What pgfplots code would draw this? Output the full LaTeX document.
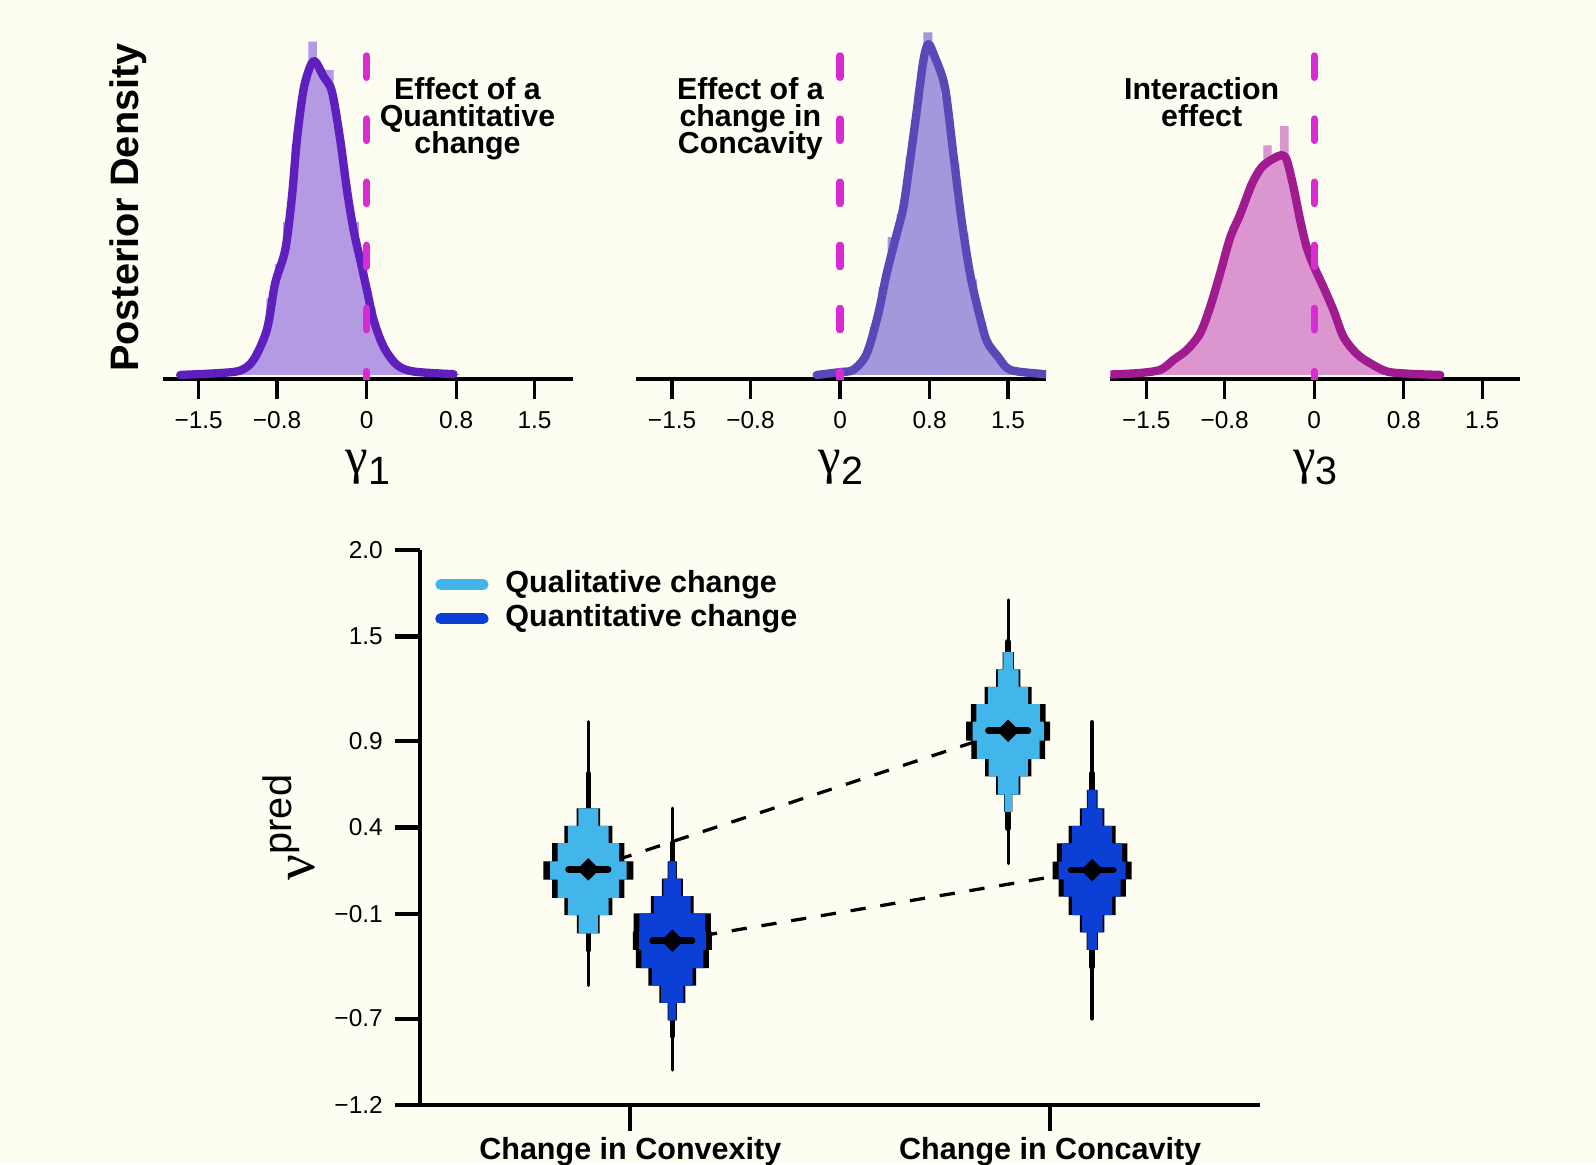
\documentclass[border=0pt]{standalone}
\usepackage{fontspec}
\setmainfont{Liberation Sans}
\newfontfamily\greekfont{Liberation Serif}
\usepackage{pgfplots}
\usepackage{pgfplotstable}
\pgfplotsset{compat=1.18}

\definecolor{bg}{RGB}{253,253,241}
\definecolor{p1line}{RGB}{94,31,190}
\definecolor{p1fill}{RGB}{179,154,226}
\definecolor{p2line}{RGB}{88,72,184}
\definecolor{p2fill}{RGB}{162,152,220}
\definecolor{p3line}{RGB}{160,26,144}
\definecolor{p3fill}{RGB}{219,150,208}
\definecolor{mag}{RGB}{216,44,210}
\definecolor{qual}{RGB}{66,181,234}
\definecolor{quant}{RGB}{12,63,213}

\newcommand{\fs}[1]{\fontsize{#1}{#1}\selectfont}

% violin bins as step corners (y, half width); end rows close the outline at the centre
\pgfplotstableread{
y w
-0.21 -0.003
-0.21 0.027
-0.105 0.027
-0.105 0.057
-0.005 0.057
-0.005 0.086
0.100 0.086
0.100 0.107
0.205 0.107
0.205 0.086
0.310 0.086
0.310 0.057
0.410 0.057
0.410 0.028
0.510 0.028
0.510 -0.003
}\qualA
\pgfplotstableread{
y w
-0.71 -0.003
-0.71 0.011
-0.61 0.011
-0.61 0.031
-0.51 0.031
-0.51 0.057
-0.41 0.057
-0.41 0.087
-0.305 0.087
-0.305 0.094
-0.20 0.094
-0.20 0.092
-0.095 0.092
-0.095 0.051
0.005 0.051
0.005 0.025
0.105 0.025
0.105 0.011
0.205 0.011
0.205 -0.003
}\quantA
\pgfplotstableread{
y w
0.49 -0.003
0.49 0.010
0.59 0.010
0.59 0.029
0.695 0.029
0.695 0.055
0.795 0.055
0.795 0.088
0.90 0.088
0.90 0.100
1.01 0.100
1.01 0.089
1.11 0.089
1.11 0.056
1.21 0.056
1.21 0.029
1.31 0.029
1.31 0.0135
1.41 0.0135
1.41 -0.003
}\qualB
\pgfplotstableread{
y w
-0.305 -0.003
-0.305 0.0135
-0.204 0.0135
-0.204 0.029
-0.104 0.029
-0.104 0.056
0.002 0.056
0.002 0.080
0.101 0.080
0.101 0.094
0.203 0.094
0.203 0.084
0.309 0.084
0.309 0.056
0.41 0.056
0.41 0.029
0.51 0.029
0.51 0.0127
0.616 0.0127
0.616 -0.003
}\quantB

% #1 table, #2 centre, #3 colour
\newcommand{\violin}[3]{%
  \addplot[draw=none, fill=black, forget plot] table[x expr=#2+\thisrow{w}, y=y] {#1};
  \addplot[draw=none, fill=black, forget plot] table[x expr=#2-\thisrow{w}, y=y] {#1};
  \addplot[draw=none, fill=#3, forget plot] table[x expr=#2+0.85*\thisrow{w}, y=y] {#1};
  \addplot[draw=none, fill=#3, forget plot] table[x expr=#2-0.85*\thisrow{w}, y=y] {#1};
}

\pgfplotsset{
  toppanel/.style={
    anchor=south west, scale only axis,
    width=201.3pt, height=176.06pt,
    xmin=-1.82, xmax=1.84, ymin=-0.023, ymax=1.85,
    axis x line*=bottom, axis y line=none,
    axis line style={line width=2pt},
    xtick={-1.5,-0.8,0,0.8,1.5},
    xticklabels={−1.5,−0.8,0,0.8,1.5},
    tick align=outside, major tick length=9.5pt,
    xtick style={line width=1.6pt, black},
    xticklabel style={font=\fs{12}, anchor=base, inner sep=0pt, yshift=-14.8pt},
    xlabel style={at={(axis description cs:0.5,0)}, anchor=base, inner sep=0pt, yshift=-46.2pt},
  },
  dens/.style={line width=4.1pt, smooth, line cap=round, line join=round},
  zeroline/.style={mag, line width=3.6pt, line cap=round, dash pattern=on 10.5pt off 20.5pt},
}

\begin{document}
\begin{tikzpicture}
\fill[bg] (0,0) rectangle (784pt,572pt);

% gamma 1
\begin{axis}[toppanel, at={(80pt,385.65pt)},
  xlabel={{\fs{25}\greekfont γ}\raisebox{-5.7pt}{\fs{19.4}1}}]
\addplot[ybar interval, fill=p1fill, draw=none] coordinates {
(-1.645,0.002) (-1.570,0.004) (-1.495,0.006) (-1.420,0.008) (-1.345,0.011)
(-1.270,0.016) (-1.195,0.021) (-1.120,0.045) (-1.045,0.082) (-0.970,0.181)
(-0.895,0.40) (-0.820,0.58) (-0.745,0.80) (-0.670,1.20) (-0.595,1.52)
(-0.520,1.742) (-0.445,1.60) (-0.370,1.594) (-0.295,1.30) (-0.220,1.00)
(-0.145,0.80) (-0.070,0.55) (0.005,0.35) (0.080,0.201) (0.155,0.115)
(0.230,0.055) (0.305,0.036) (0.380,0.018) (0.455,0.015) (0.530,0.012)
(0.605,0.009) (0.680,0.006) (0.755,0.004) (0.830,0)};
\addplot[p1line, dens] coordinates {
(-1.665,0.000) (-1.337,0.009) (-1.129,0.023) (-1.010,0.079) (-0.891,0.236)
(-0.817,0.479) (-0.727,0.654) (-0.667,0.932) (-0.623,1.229) (-0.564,1.490)
(-0.504,1.612) (-0.459,1.638) (-0.385,1.560) (-0.310,1.481) (-0.236,1.229)
(-0.176,0.967) (-0.117,0.758) (-0.057,0.601) (0.002,0.445) (0.062,0.288)
(0.151,0.148) (0.270,0.053) (0.419,0.018) (0.776,0.004)};
\addplot[zeroline] coordinates {(0,1.667) (0,-0.023)};
\end{axis}

% gamma 2
\begin{axis}[toppanel, at={(312.55pt,385.65pt)},
  xlabel={{\fs{25}\greekfont γ}\raisebox{-5.7pt}{\fs{19.4}2}}]
\addplot[ybar interval, fill=p2fill, draw=none] coordinates {
(-0.215,0.002) (-0.135,0.005) (-0.055,0.014) (0.025,0.022) (0.105,0.045)
(0.185,0.10) (0.265,0.25) (0.345,0.46) (0.425,0.72) (0.505,0.84)
(0.585,1.14) (0.665,1.48) (0.745,1.79) (0.825,1.64) (0.905,1.46)
(0.985,1.10) (1.065,0.74) (1.145,0.50) (1.225,0.28) (1.305,0.15)
(1.385,0.086) (1.465,0.035) (1.545,0.02) (1.625,0.012) (1.705,0.008)
(1.785,0.005) (1.865,0)};
\addplot[p2line, dens] coordinates {
(-0.208,0.000) (0.000,0.015) (0.119,0.027) (0.238,0.111) (0.342,0.321)
(0.416,0.529) (0.506,0.736) (0.565,0.875) (0.625,1.119) (0.685,1.380)
(0.744,1.642) (0.789,1.729) (0.848,1.659) (0.937,1.502) (1.012,1.154)
(1.086,0.807) (1.161,0.529) (1.235,0.336) (1.310,0.178) (1.414,0.093)
(1.518,0.027) (1.786,0.006) (1.860,0.003)};
\addplot[zeroline] coordinates {(0,1.667) (0,-0.023)};
\end{axis}

% gamma 3
\begin{axis}[toppanel, at={(545.5pt,385.65pt)},
  xlabel={{\fs{25}\greekfont γ}\raisebox{-5.7pt}{\fs{19.4}3}}]
\addplot[ybar interval, fill=p3fill, draw=none] coordinates {
(-1.955,0.001) (-1.880,0.003) (-1.805,0.004) (-1.730,0.006) (-1.655,0.008)
(-1.580,0.011) (-1.505,0.017) (-1.430,0.025) (-1.355,0.05) (-1.280,0.085)
(-1.205,0.12) (-1.130,0.16) (-1.055,0.22) (-0.980,0.34) (-0.905,0.48)
(-0.830,0.64) (-0.755,0.78) (-0.680,0.87) (-0.605,1.00) (-0.530,1.08)
(-0.455,1.20) (-0.380,1.14) (-0.305,1.30) (-0.230,1.00) (-0.155,0.79)
(-0.080,0.63) (-0.005,0.53) (0.070,0.43) (0.145,0.32) (0.220,0.21)
(0.295,0.14) (0.370,0.10) (0.445,0.065) (0.520,0.04) (0.595,0.022)
(0.670,0.014) (0.745,0.009) (0.820,0.006) (0.895,0.004) (0.970,0.003)
(1.045,0.002) (1.120,0)};
\addplot[p3line, dens] coordinates {
(-1.926,0.000) (-1.585,0.009) (-1.375,0.027) (-1.256,0.079) (-1.137,0.131)
(-1.019,0.218) (-0.929,0.357) (-0.840,0.532) (-0.751,0.718) (-0.661,0.840)
(-0.557,0.998) (-0.467,1.087) (-0.364,1.131) (-0.289,1.148) (-0.245,1.122)
(-0.185,0.980) (-0.125,0.806) (-0.066,0.664) (0.008,0.553) (0.083,0.458)
(0.173,0.336) (0.262,0.198) (0.381,0.110) (0.500,0.061) (0.649,0.018)
(0.850,0.006) (1.125,0.000)};
\addplot[zeroline] coordinates {(0,1.667) (0,-0.023)};
\end{axis}

% panel notes
\begin{scope}[every node/.style={anchor=base, inner sep=0pt, font=\fs{14.9}\bfseries}]
\node at (229.65pt,523.1pt) {Effect of a};
\node at (229.65pt,509.85pt) {Quantitative};
\node at (229.65pt,496.6pt) {change};
\node at (368.6pt,523.1pt) {Effect of a};
\node at (368.6pt,509.85pt) {change in};
\node at (368.6pt,496.6pt) {Concavity};
\node at (590.3pt,523.1pt) {Interaction};
\node at (590.3pt,509.85pt) {effect};
\end{scope}
\node[rotate=90, anchor=base, inner sep=0pt, font=\fs{19.5}\bfseries] at (67.95pt,470pt) {Posterior Density};

% predictions
\begin{axis}[
  at={(206.5pt,29pt)}, anchor=south west, scale only axis,
  width=412.5pt, height=273pt,
  xmin=0.5, xmax=2.5, ymin=-1.2, ymax=2.0,
  axis x line*=bottom, axis y line*=left,
  axis line style={line width=2pt},
  tick align=outside, major tick length=12.5pt,
  tick style={line width=2pt, black},
  xtick={1,2},
  xticklabels={Change in Convexity, Change in Concavity},
  xticklabel style={font=\fs{15}\bfseries, anchor=base, inner sep=0pt, yshift=-14.25pt},
  ytick={-1.2,-0.7,-0.1,0.4,0.9,1.5,2.0},
  yticklabels={−1.2,−0.7,−0.1,0.4,0.9,1.5,2.0},
  yticklabel style={font=\fs{12}, anchor=east, inner sep=0pt, xshift=-5.8pt},
  ylabel={{\fs{28}\greekfont ν}\raisebox{11.5pt}{\fs{19.5}pred}},
  ylabel style={at={(axis description cs:-0.1255,0.5)}, anchor=base, inner sep=0pt},
  legend style={at={(axis description cs:0.0173,0.9647)}, anchor=north west,
    draw=none, fill=none, inner sep=0pt, row sep=2.35pt, column sep=8.3pt,
    font=\fs{15}\bfseries, nodes={inner sep=0pt, text height=11pt, text depth=3.5pt}},
  legend cell align=left,
  legend image code/.code={\draw[line width=5.25pt, line cap=round] (0pt,0pt) -- (20.9pt,0pt);},
  clip=false,
]
\addlegendimage{qual}
\addlegendentry{Qualitative change}
\addlegendimage{quant}
\addlegendentry{Quantitative change}

% links between medians
\addplot[black, line width=1.6pt, dash pattern=on 7.5pt off 7.3pt, forget plot] coordinates {(0.9,0.159) (1.9,0.957)};
\addplot[black, line width=1.6pt, dash pattern=on 7.5pt off 7.3pt, forget plot] coordinates {(1.1,-0.252) (2.1,0.155)};

% whiskers
\addplot[black, line width=1.65pt, line cap=round, forget plot] coordinates {(0.9,-0.509) (0.9,1.009)};
\addplot[black, line width=1.65pt, line cap=round, forget plot] coordinates {(1.1,-0.996) (1.1,0.511)};
\addplot[black, line width=1.65pt, line cap=round, forget plot] coordinates {(1.9,0.193) (1.9,1.710)};
\addplot[black, line width=1.65pt, line cap=round, forget plot] coordinates {(2.1,-0.702) (2.1,1.009)};
\addplot[black, line width=2.75pt, line cap=round, forget plot] coordinates {(0.9,-0.305) (0.9,0.71)};
\addplot[black, line width=2.75pt, line cap=round, forget plot] coordinates {(1.1,-0.80) (1.1,0.31)};
\addplot[black, line width=2.75pt, line cap=round, forget plot] coordinates {(1.9,0.395) (1.9,1.47)};
\addplot[black, line width=2.75pt, line cap=round, forget plot] coordinates {(2.1,-0.402) (2.1,0.712)};

\violin{\qualA}{0.9}{qual}
\violin{\quantA}{1.1}{quant}
\violin{\qualB}{1.9}{qual}
\violin{\quantB}{2.1}{quant}

% medians
\addplot[black, line width=3.3pt, line cap=round, forget plot] coordinates {(0.853,0.159) (0.947,0.159)};
\addplot[black, line width=3.3pt, line cap=round, forget plot] coordinates {(1.053,-0.252) (1.147,-0.252)};
\addplot[black, line width=3.3pt, line cap=round, forget plot] coordinates {(1.853,0.957) (1.947,0.957)};
\addplot[black, line width=3.3pt, line cap=round, forget plot] coordinates {(2.050,0.155) (2.150,0.155)};
\addplot[only marks, mark=square*, mark size=3.7pt, mark options={rotate=45, black, fill=black}, forget plot]
  coordinates {(0.9,0.159) (1.1,-0.252) (1.9,0.957) (2.1,0.155)};
\end{axis}

\pgfresetboundingbox
\path[use as bounding box] (0,0) rectangle (784pt,572pt);
\end{tikzpicture}
\end{document}
